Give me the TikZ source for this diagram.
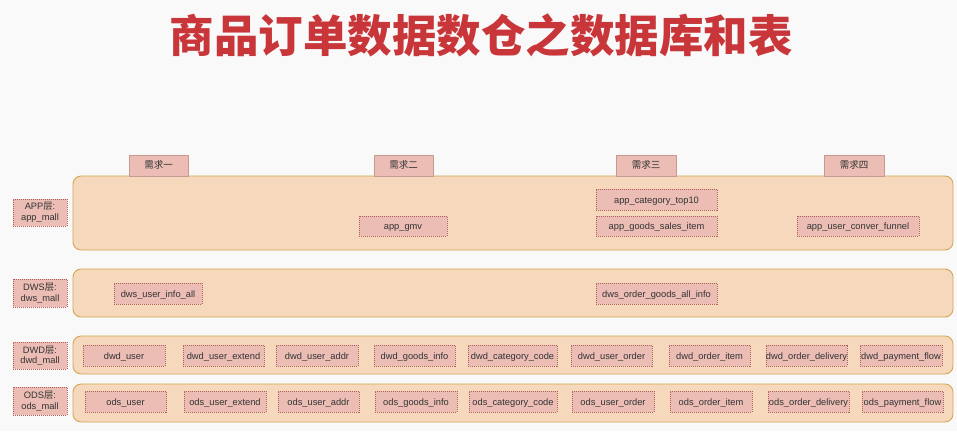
\documentclass[tikz,border=0pt]{standalone}
\usepackage{fontspec}
\setmainfont{Liberation Sans}
\newfontfamily\cjk{Noto Sans CJK SC}
\definecolor{bg}{HTML}{F9F9F9}
\definecolor{titlered}{HTML}{C8363A}
\definecolor{cont}{HTML}{F6D8BD}
\definecolor{contb}{HTML}{D4A550}
\definecolor{tabf}{HTML}{EBBDB4}
\definecolor{tabb}{HTML}{C49A92}
\definecolor{boxb}{HTML}{B0625A}
\definecolor{txt}{HTML}{333333}
\newcommand\mkbox[7]{\node[#1, minimum width={#5pt-#3pt}, minimum height={#6pt-#4pt}] (#2) at ({(#3+#5)/2},{(#4+#6)/2}) {#7};}
\newcommand\mkcont[5]{\node[container, minimum width={#4pt-#2pt}, minimum height={#5pt-#3pt}] (#1) at ({(#2+#4)/2},{(#3+#5)/2}) {};}
\tikzset{
  container/.style={draw=contb, fill=cont, rounded corners=8pt, line width=0.9pt, inner sep=0pt},
  tabbox/.style={draw=tabb, fill=tabf, line width=0.6pt, inner sep=0pt, font=\cjk\fontsize{9.5}{11}\selectfont, text=txt, text height=8pt, text depth=1.5pt},
  tblbox/.style={draw=boxb, fill=tabf, line width=0.6pt, dash pattern=on 1pt off 1pt, inner sep=0pt, font=\fontsize{9.3}{11}\selectfont, text=txt, text height=8pt, text depth=1pt},
  lblbox/.style={draw=boxb, fill=tabf, line width=0.6pt, dash pattern=on 1pt off 1pt, inner sep=0pt, text=txt, align=center, font=\fontsize{9.3}{10.5}\selectfont},
}
\begin{document}
\begin{tikzpicture}[x=1pt,y=-1pt]
\useasboundingbox (0,0) rectangle (957,431);
\fill[bg] (0,0) rectangle (957,431);
\node[font=\cjk\bfseries\fontsize{44.5}{46}\selectfont, text=titlered, inner sep=0pt] (title) at (481,35) {商品订单数据数仓之数据库和表};
% containers
\mkcont{appc}{73}{176}{953}{250}
\mkcont{dwsc}{73}{269}{953}{317}
\mkcont{dwdc}{73}{336}{953}{374}
\mkcont{odsc}{73}{384}{953}{422}
% tabs
\mkbox{tabbox}{r1}{129}{155}{188}{176}{需求一}
\mkbox{tabbox}{r2}{374}{155}{433}{176}{需求二}
\mkbox{tabbox}{r3}{616}{155}{676}{176}{需求三}
\mkbox{tabbox}{r4}{824}{155}{884}{176}{需求四}
% layer labels
\mkbox{lblbox}{lapp}{13}{199}{67}{226}{APP{\cjk 层}:\\app\_mall}
\mkbox{lblbox}{ldws}{13}{279}{67}{307}{DWS{\cjk 层}:\\dws\_mall}
\mkbox{lblbox}{ldwd}{13}{342}{67}{369}{DWD{\cjk 层}:\\dwd\_mall}
\mkbox{lblbox}{lods}{13}{387}{67}{415}{ODS{\cjk 层}:\\ods\_mall}
% app tables
\mkbox{tblbox}{agmv}{359}{216}{447}{236}{app\_gmv}
\mkbox{tblbox}{acat}{596}{189}{717}{210}{app\_category\_top10}
\mkbox{tblbox}{agoods}{596}{216}{717}{236}{app\_goods\_sales\_item}
\mkbox{tblbox}{afunnel}{797}{216}{919}{236}{app\_user\_conver\_funnel}
% dws tables
\mkbox{tblbox}{dwsu}{114}{283}{202}{304}{dws\_user\_info\_all}
\mkbox{tblbox}{dwso}{596}{283}{717}{304}{dws\_order\_goods\_all\_info}
% dwd tables
\mkbox{tblbox}{dwd1}{83}{345}{165}{366}{dwd\_user}
\mkbox{tblbox}{dwd2}{183}{345}{264}{366}{dwd\_user\_extend}
\mkbox{tblbox}{dwd3}{276}{345}{358}{366}{dwd\_user\_addr}
\mkbox{tblbox}{dwd4}{374}{345}{455}{366}{dwd\_goods\_info}
\mkbox{tblbox}{dwd5}{468}{345}{557}{366}{dwd\_category\_code}
\mkbox{tblbox}{dwd6}{571}{345}{652}{366}{dwd\_user\_order}
\mkbox{tblbox}{dwd7}{669}{345}{750}{366}{dwd\_order\_item}
\mkbox{tblbox}{dwd8}{766}{345}{847}{366}{dwd\_order\_delivery}
\mkbox{tblbox}{dwd9}{860}{345}{942}{366}{dwd\_payment\_flow}
% ods tables
\mkbox{tblbox}{ods1}{85}{391}{166}{412}{ods\_user}
\mkbox{tblbox}{ods2}{184}{391}{266}{412}{ods\_user\_extend}
\mkbox{tblbox}{ods3}{278}{391}{359}{412}{ods\_user\_addr}
\mkbox{tblbox}{ods4}{375}{391}{457}{412}{ods\_goods\_info}
\mkbox{tblbox}{ods5}{469}{391}{557}{412}{ods\_category\_code}
\mkbox{tblbox}{ods6}{572}{391}{654}{412}{ods\_user\_order}
\mkbox{tblbox}{ods7}{670}{391}{752}{412}{ods\_order\_item}
\mkbox{tblbox}{ods8}{768}{391}{849}{412}{ods\_order\_delivery}
\mkbox{tblbox}{ods9}{862}{391}{943}{412}{ods\_payment\_flow}
\end{tikzpicture}
\end{document}
